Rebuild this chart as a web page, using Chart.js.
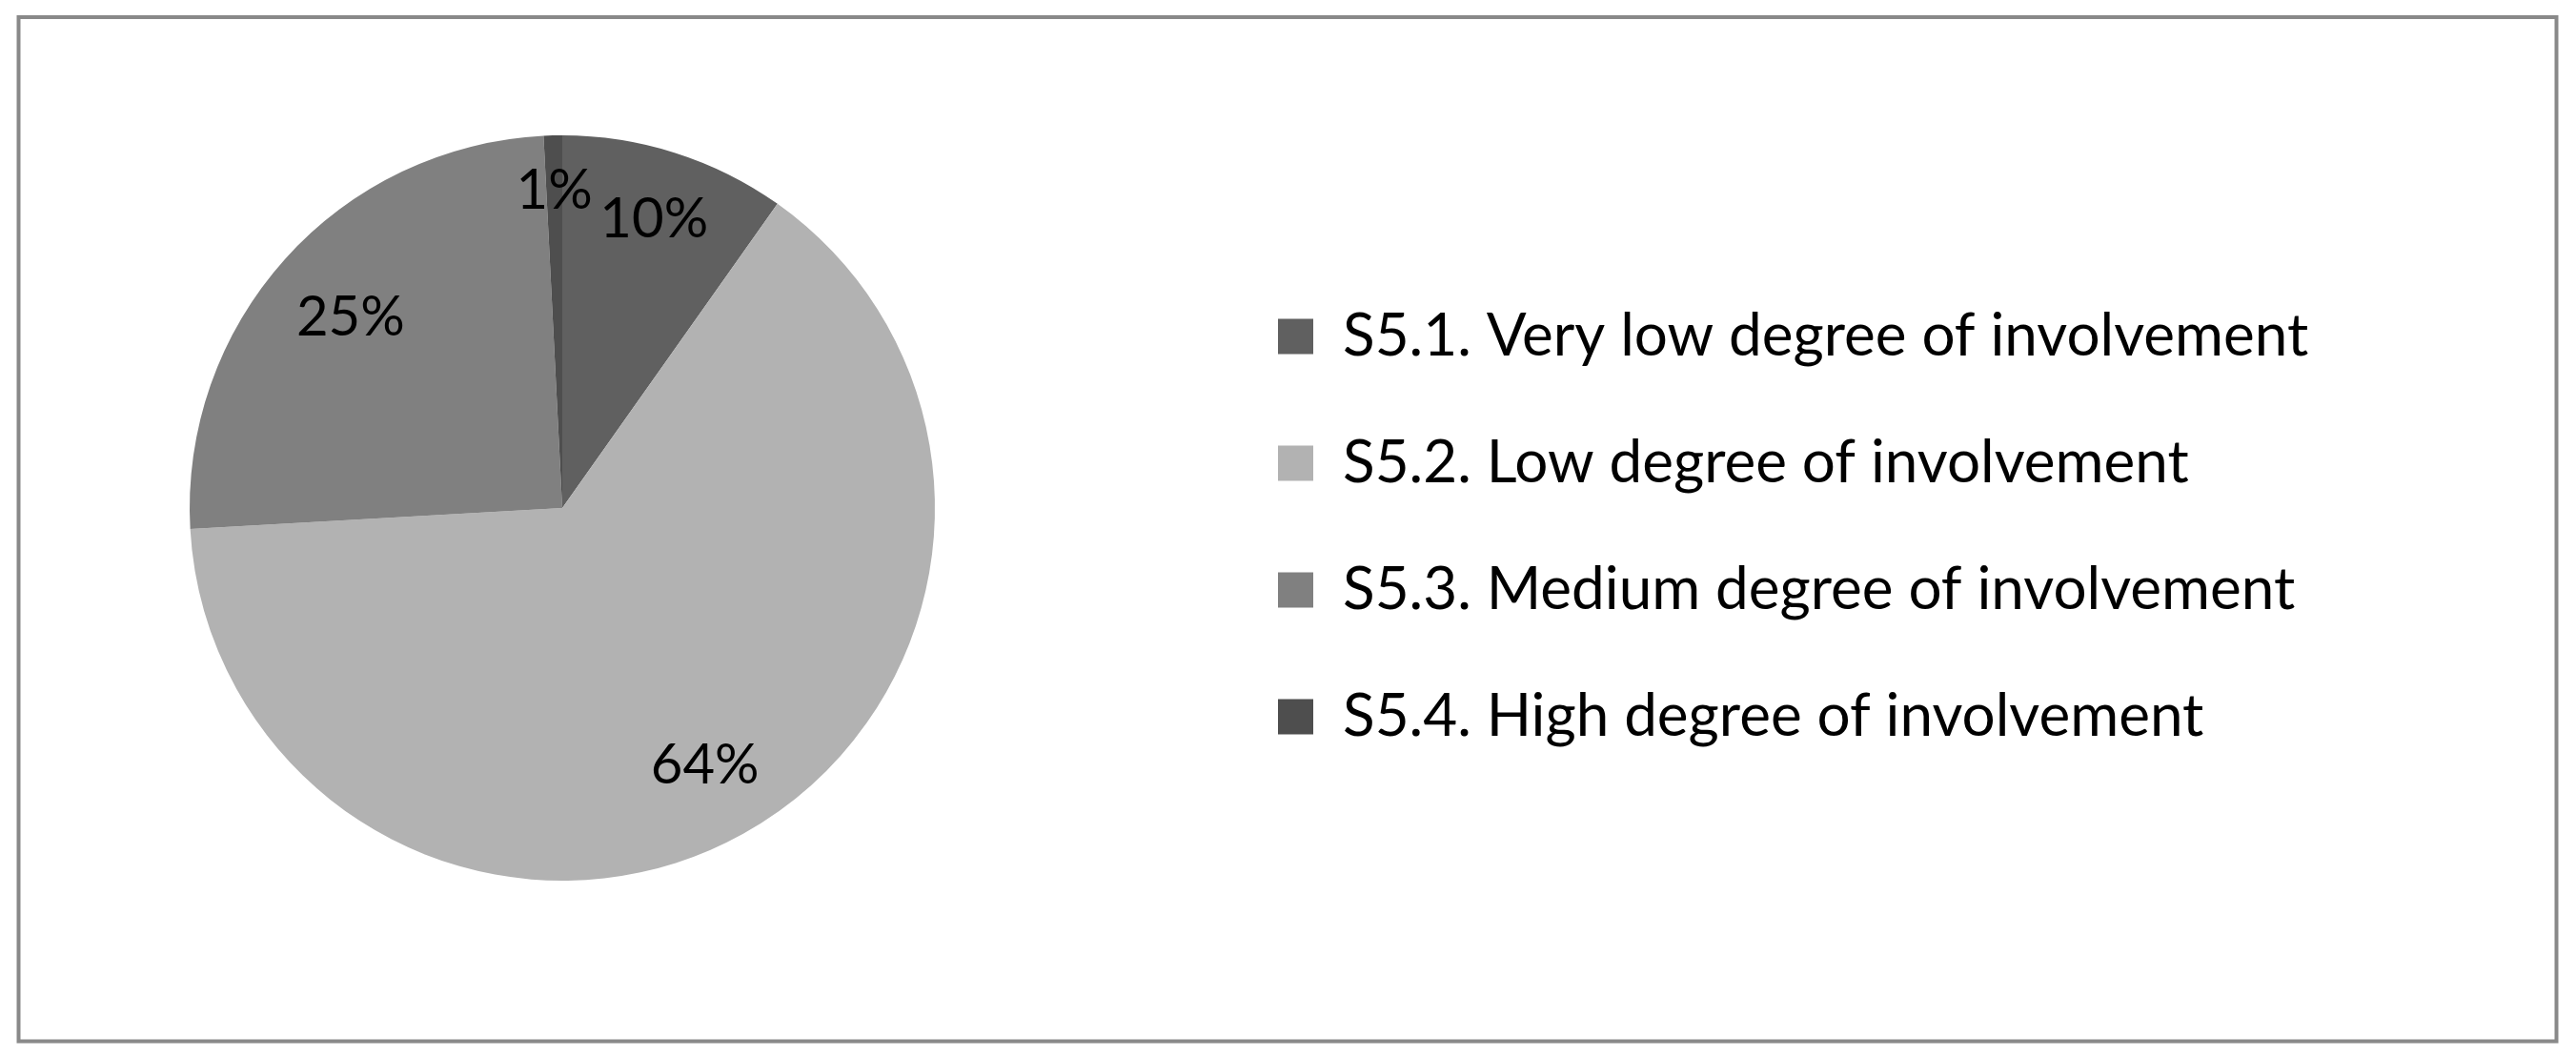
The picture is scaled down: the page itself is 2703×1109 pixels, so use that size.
<!DOCTYPE html>
<html>
<head>
<meta charset="utf-8">
<script src="https://cdn.jsdelivr.net/npm/chart.js@4.4.1/dist/chart.umd.min.js"></script>
<style>
  html, body { margin: 0; padding: 0; background: #fff; overflow: hidden; }
  body { position: relative; width: 2703px; height: 1109px; }
  /* canvas is shifted left so the pie sits where the reference has it */
  .graphContainer { position: absolute; left: -90px; top: 0; width: 2793px; height: 1109px; }
</style>
</head>
<body>
<div class="graphContainer">
  <canvas id="pieChart"></canvas>
</div>
<script>
// data
const categories = [
  "S5.1. Very low degree of involvement",
  "S5.2. Low degree of involvement",
  "S5.3. Medium degree of involvement",
  "S5.4. High degree of involvement",
];
const shares = [9.8, 64.3, 25.1, 0.8];
const sliceColors = ["#606060", "#b2b2b2", "#808080", "#4e4e4e"];

const SHIFT = 90;
const CANVAS_W = 2793;
const FONT = "Lato, 'Open Sans', sans-serif";
const LEGEND_FONT = 62;
const LABEL_FONT = 58;
const BOX = 37;
const ITEM_GAP = 71;
const LEGEND_LEFT = 1360; // canvas coords; pie area is [0, LEGEND_LEFT]

// work out right padding so the legend box starts at LEGEND_LEFT
const measure = document.createElement("canvas").getContext("2d");
measure.font = LEGEND_FONT + "px " + FONT;
const maxText = Math.max(...categories.map((c) => measure.measureText(c).width));
const legendWidth = ITEM_GAP + BOX + LEGEND_FONT / 2 + maxText + 10;
const padRight = CANVAS_W - LEGEND_LEFT - legendWidth;

// grey frame around the whole chart
const frame = {
  id: "frame",
  beforeDraw(chart) {
    const { ctx } = chart;
    ctx.save();
    ctx.strokeStyle = "#898989";
    ctx.lineWidth = 4;
    ctx.strokeRect(19.5 + SHIFT, 18, 2663, 1074.5);
    ctx.restore();
  },
};

// percentage labels, placed just inside the rim like Excel's "inside end"
const sliceLabels = {
  id: "sliceLabels",
  afterDatasetsDraw(chart) {
    const { ctx } = chart;
    const meta = chart.getDatasetMeta(0);
    const total = shares.reduce((a, b) => a + b, 0);
    ctx.save();
    ctx.font = LABEL_FONT + "px " + FONT;
    ctx.fillStyle = "#000";
    ctx.textAlign = "center";
    ctx.textBaseline = "middle";
    meta.data.forEach((arc, i) => {
      const p = arc.getProps(["x", "y", "startAngle", "endAngle", "outerRadius"], true);
      const mid = (p.startAngle + p.endAngle) / 2;
      const text = Math.round((shares[i] / total) * 100) + "%";
      const hw = ctx.measureText(text).width / 2;
      const hh = LABEL_FONT * 0.38;
      const c = Math.cos(mid), s = Math.sin(mid);
      const r = p.outerRadius * 0.91 - (hw * Math.abs(c) + hh * Math.abs(s));
      ctx.fillText(text, p.x + c * r, p.y + s * r);
    });
    ctx.restore();
  },
};

const chartCtx = document.getElementById("pieChart").getContext("2d");
const myChart = new Chart(chartCtx, {
  type: "pie",
  data: {
    labels: categories,
    datasets: [
      {
        data: shares,
        backgroundColor: sliceColors,
        borderWidth: 0,
        hoverBorderWidth: 0,
        hoverOffset: 0,
      },
    ],
  },
  options: {
    responsive: true,
    maintainAspectRatio: false,
    animation: false,
    events: [],
    layout: {
      padding: { left: 0, right: padRight, top: 142, bottom: 185 },
    },
    plugins: {
      tooltip: { enabled: false },
      legend: {
        position: "right",
        title: {
          display: true,
          text: " ",
          font: { size: 10, lineHeight: 1 },
          padding: { top: 29, bottom: 0 },
        },
        labels: {
          boxWidth: BOX,
          boxHeight: BOX,
          padding: ITEM_GAP,
          color: "#000",
          font: { family: FONT, size: LEGEND_FONT },
        },
      },
    },
  },
  plugins: [frame, sliceLabels],
});
</script>
</body>
</html>
